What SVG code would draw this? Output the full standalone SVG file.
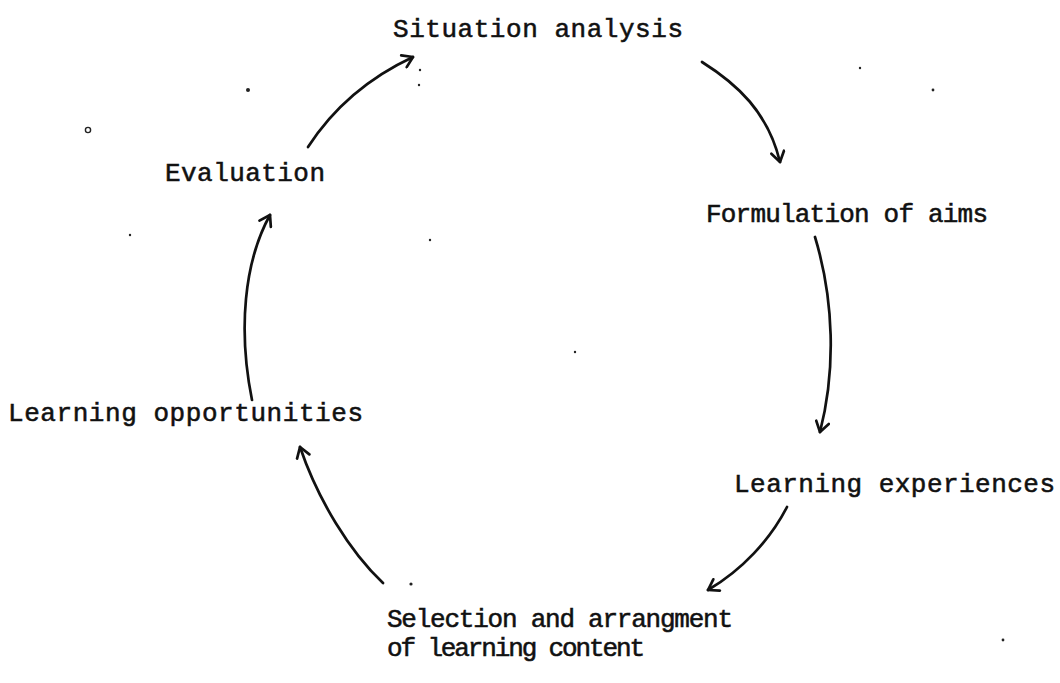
<svg xmlns="http://www.w3.org/2000/svg" width="1060" height="683" viewBox="0 0 1060 683">
  <defs>
    <style>
      .label { font-family: "Liberation Mono", "DejaVu Sans Mono", monospace; font-size: 26px; fill: #111; stroke: #111; stroke-width: 0.55; }
      .flow { fill: none; stroke: #111; stroke-width: 2.7; stroke-linecap: round; }
      .speck { fill: #222; }
    </style>
    <marker id="head" viewBox="-12 -8 14 16" markerWidth="14" markerHeight="16" refX="0" refY="0" orient="auto" markerUnits="userSpaceOnUse">
      <path d="M-10,-6.5 L0,0 L-10,6.5" fill="none" stroke="#111" stroke-width="2.7" stroke-linecap="round" stroke-linejoin="round"/>
    </marker>
  </defs>
  <rect width="1060" height="683" fill="#fff"/>

  <!-- stages of the curriculum cycle -->
  <g id="situation-analysis"><text class="label" x="393" y="37" textLength="290" lengthAdjust="spacing">Situation analysis</text></g>
  <g id="formulation-of-aims"><text class="label" x="706" y="222" textLength="282" lengthAdjust="spacing">Formulation of aims</text></g>
  <g id="learning-experiences"><text class="label" x="734" y="492" textLength="321" lengthAdjust="spacing">Learning experiences</text></g>
  <g id="selection-and-arrangement">
    <text class="label" x="387" y="627" textLength="346" lengthAdjust="spacing">Selection and arrangment</text>
    <text class="label" x="387" y="656" textLength="258" lengthAdjust="spacing">of learning content</text>
  </g>
  <g id="learning-opportunities"><text class="label" x="8" y="421" textLength="355" lengthAdjust="spacing">Learning opportunities</text></g>
  <g id="evaluation"><text class="label" x="165" y="181" textLength="160" lengthAdjust="spacing">Evaluation</text></g>

  <!-- clockwise arrows between stages -->
  <g id="connectors">
    <path class="flow" marker-end="url(#head)" d="M308,147 C332,110 368,78 413,57"/>
    <path class="flow" marker-end="url(#head)" d="M702,62 C737,84 768,112 780,162"/>
    <path class="flow" marker-end="url(#head)" d="M815,237 C834,300 836,370 820,432"/>
    <path class="flow" marker-end="url(#head)" d="M787,507 C770,540 742,570 708,590"/>
    <path class="flow" marker-end="url(#head)" d="M383,583 C350,552 318,500 300,447"/>
    <path class="flow" marker-end="url(#head)" d="M252,400 C238,330 244,262 270,215"/>
  </g>

  <!-- small specks on the sheet -->
  <g id="specks">
    <circle class="speck" cx="248" cy="90" r="2"/>
    <circle cx="88" cy="130" r="2.6" fill="none" stroke="#222" stroke-width="1.4"/>
    <circle class="speck" cx="420" cy="70" r="1.2"/>
    <circle class="speck" cx="419" cy="85" r="1.2"/>
    <circle class="speck" cx="860" cy="68" r="1.2"/>
    <circle class="speck" cx="933" cy="90" r="1.4"/>
    <circle class="speck" cx="130" cy="235" r="1.2"/>
    <circle class="speck" cx="430" cy="240" r="1.2"/>
    <circle class="speck" cx="575" cy="352" r="1.2"/>
    <circle class="speck" cx="411" cy="584" r="1.6"/>
    <circle class="speck" cx="1003" cy="640" r="1.4"/>
  </g>
</svg>
